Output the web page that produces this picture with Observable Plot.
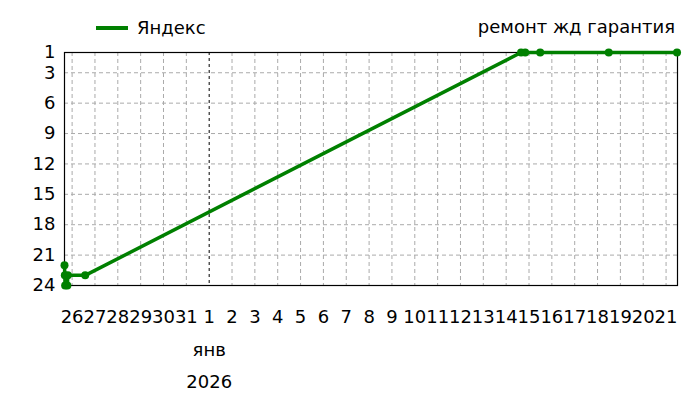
<!DOCTYPE html>
<html>
<head>
<meta charset="utf-8">
<script src="https://cdn.jsdelivr.net/npm/d3@7"></script>
<script src="https://cdn.jsdelivr.net/npm/@observablehq/plot@0.6"></script>
<style>
  body { margin: 0; background: #fff; font-family: "DejaVu Sans", sans-serif; }
  #wrap { position: relative; width: 700px; height: 400px; }
  #header { position: relative; width: 700px; height: 40px; }
  .legend { position: absolute; left: 96px; top: 17px; font-size: 18px; line-height: 21px; color: #000; display: flex; align-items: center; }
  .legend .sw { width: 32px; height: 4px; background: #008000; margin-right: 9px; }
  .title { position: absolute; right: 25px; top: 16px; font-size: 18px; line-height: 21px; color: #000; }
</style>
</head>
<body>
<div id="wrap">
  <div id="header">
    <div class="legend"><span class="sw"></span><span id="legendLabel"></span></div>
    <div class="title" id="title"></div>
  </div>
  <div id="chart"></div>
</div>
<script>
const chartTitle = "ремонт жд гарантия";
const seriesName = "Яндекс";
const times = [
  "2025-12-25T16:00Z", "2025-12-25T16:20Z", "2025-12-25T16:40Z", "2025-12-25T19:00Z",
  "2025-12-25T19:30Z", "2025-12-26T13:45Z", "2026-01-14T15:40Z", "2026-01-14T20:00Z",
  "2026-01-15T11:45Z", "2026-01-18T11:45Z", "2026-01-21T11:30Z"
];
const positions = [22, 23, 24, 24, 23, 23, 1, 1, 1, 1, 1];
const yTicks = [1, 3, 6, 9, 12, 15, 18, 21, 24];
const monthLabel = "янв";
const yearLabel = "2026";
const xStart = "2025-12-25T16:00Z";
const xEnd = "2026-01-21T12:00Z";
const firstDay = "2025-12-26T00:00Z";
const lastDay = "2026-01-21T00:00Z";
const yearStart = "2026-01-01T00:00Z";

document.getElementById("legendLabel").textContent = seriesName;
document.getElementById("title").textContent = chartTitle;

const data = times.map((t, i) => ({date: new Date(t), pos: positions[i]}));
const days = d3.utcDay.range(new Date(firstDay), d3.utcDay.offset(new Date(lastDay), 1));
const yStart = new Date(yearStart);
const gridDays = days.filter(d => +d !== +yStart);

const green = "#008000";

const chart = Plot.plot({
  width: 700,
  height: 360,
  marginTop: 12,
  marginBottom: 115,
  marginLeft: 64,
  marginRight: 23,
  style: {fontFamily: "DejaVu Sans", fontSize: "18px", color: "#000", background: "#fff"},
  x: {type: "utc", domain: [new Date(xStart), new Date(xEnd)]},
  y: {domain: [1, 24], reverse: true},
  marks: [
    Plot.ruleX(gridDays, {stroke: "#aaa", strokeDasharray: "4,3", strokeWidth: 1}),
    Plot.ruleY(yTicks.filter(v => v !== 1 && v !== 24), {stroke: "#aaa", strokeDasharray: "4,3", strokeWidth: 1}),
    Plot.ruleX([yStart], {stroke: "#000", strokeDasharray: "3,3", strokeWidth: 1}),
    Plot.frame({stroke: "#000", strokeWidth: 1.2}),
    Plot.axisY({ticks: yTicks, tickSize: 0, tickPadding: 9, fontSize: 18, label: null}),
    Plot.axisX({ticks: days, tickSize: 0, tickPadding: 25, fontSize: 18, label: null,
      tickFormat: d => String(d.getUTCDate())}),
    Plot.text([yStart], {x: d => d, text: () => monthLabel, frameAnchor: "bottom", dy: 70, fontSize: 18, lineAnchor: "bottom"}),
    Plot.text([yStart], {x: d => d, text: () => yearLabel, frameAnchor: "bottom", dy: 102, fontSize: 18, lineAnchor: "bottom"}),
    Plot.line(data, {x: "date", y: "pos", stroke: green, strokeWidth: 3.5}),
    Plot.dot(data, {x: "date", y: "pos", fill: green, r: 4})
  ]
});
document.getElementById("chart").appendChild(chart);
</script>
</body>
</html>
